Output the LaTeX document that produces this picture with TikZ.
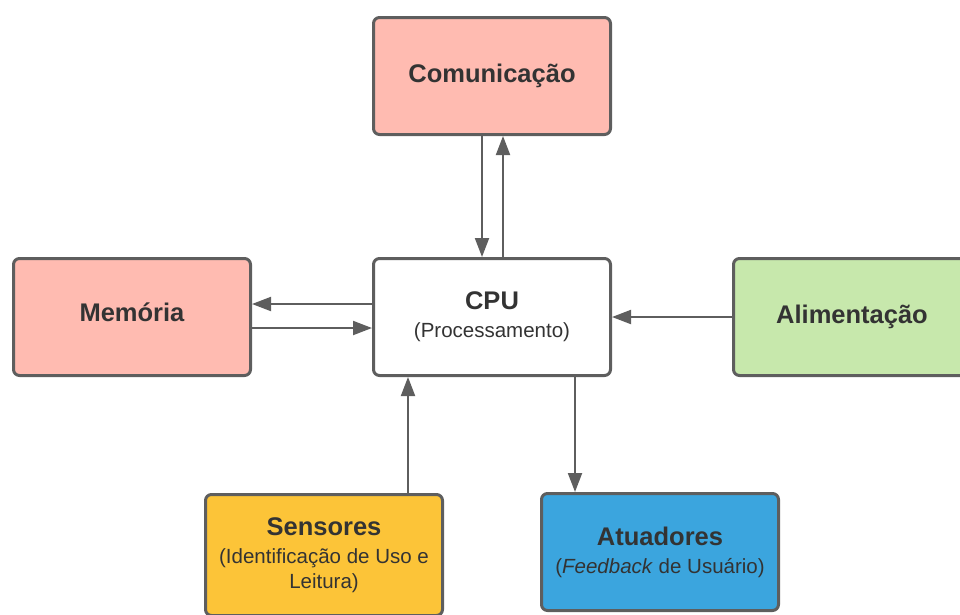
\documentclass[tikz,border=0pt]{standalone}
\usepackage{fontspec}
\setmainfont{Liberation Sans}
\usetikzlibrary{arrows.meta}

\definecolor{edge}{HTML}{5E5E5E}
\definecolor{ink}{HTML}{333333}
\definecolor{salmon}{HTML}{FFBBB1}
\definecolor{leaf}{HTML}{C7E8AC}
\definecolor{amber}{HTML}{FCC438}
\definecolor{sky}{HTML}{3BA5DE}

\newcommand{\ttl}[1]{{\fontsize{25.5}{30}\selectfont\bfseries #1}}
\newcommand{\sub}{\fontsize{20.5}{25}\selectfont}

\tikzset{
  block/.style={draw=edge, line width=3pt, rounded corners=6pt,
    minimum width=237pt, minimum height=117pt, inner sep=0pt,
    align=center, text=ink, font=\sub},
  arr/.style={draw=edge, line width=2pt,
    -{Triangle[length=19pt,width=14pt]}}
}

\begin{document}
\begin{tikzpicture}[x=1pt, y=-1pt]
  \useasboundingbox (0,0) rectangle (960,614);

  % blocks of the system
  \node[block, fill=salmon] (com) at (492,76)  {\raisebox{2pt}{\ttl{Comunicação}}};
  \node[block, fill=white]  (cpu) at (492,317) {\ttl{CPU}\\[3pt](Processamento)};
  \node[block, fill=salmon] (mem) at (132,317) {\raisebox{9pt}{\ttl{Memória}}};
  \node[block, fill=leaf]   (ali) at (852,317) {\raisebox{5pt}{\ttl{Alimentação}}};
  \node[block, fill=amber, minimum height=121pt] (sen) at (324,555)
    {\ttl{Sensores}\\[3pt](Identificação de Uso e\\Leitura)};
  \node[block, fill=sky]    (atu) at (660,552) {\ttl{Atuadores}\\[3pt](\textit{Feedback} de Usuário)};

  % data paths
  \draw[arr] ([xshift=-10pt]com.south) -- ([xshift=-10pt]cpu.north);
  \draw[arr] ([xshift=11pt]cpu.north)  -- ([xshift=11pt]com.south);
  \draw[arr] ([yshift=13pt]cpu.west)   -- ([yshift=13pt]mem.east);
  \draw[arr] ([yshift=-11pt]mem.east)  -- ([yshift=-11pt]cpu.west);
  \draw[arr] (ali.west) -- (cpu.east);
  \draw[arr] ([xshift=84pt]sen.north)  -- ([xshift=-84pt]cpu.south);
  \draw[arr] ([xshift=83pt]cpu.south)  -- ([xshift=-85pt]atu.north);
\end{tikzpicture}
\end{document}
